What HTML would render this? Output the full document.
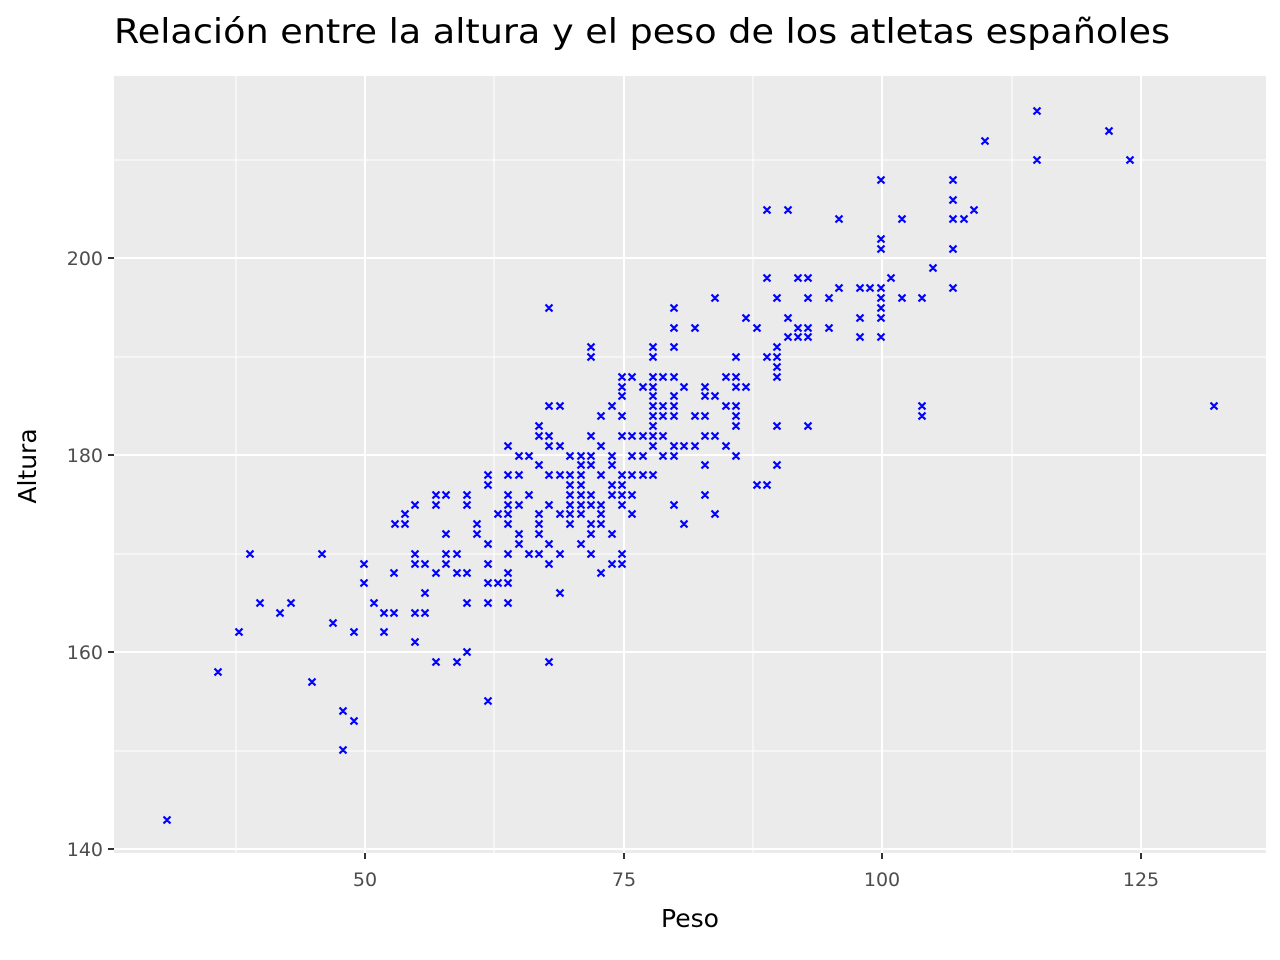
<!DOCTYPE html>
<html><head><meta charset="utf-8"><style>
html,body{margin:0;padding:0;background:#fff;}
svg{display:block;font-family:"DejaVu Sans","Liberation Sans",sans-serif;}
</style></head><body>
<svg id="s" width="1280" height="960" viewBox="0 0 1280 960">
<rect x="0" y="0" width="1280" height="960" fill="#fff"/>
<rect x="114" y="76" width="1152" height="777" fill="#ebebeb"/>
<g stroke="#fff" stroke-width="1">
<line x1="236" y1="76" x2="236" y2="853"/><line x1="494" y1="76" x2="494" y2="853"/>
<line x1="753" y1="76" x2="753" y2="853"/><line x1="1012" y1="76" x2="1012" y2="853"/>
<line x1="114" y1="160" x2="1266" y2="160"/><line x1="114" y1="357" x2="1266" y2="357"/>
<line x1="114" y1="554" x2="1266" y2="554"/><line x1="114" y1="751" x2="1266" y2="751"/>
</g>
<g stroke="#fff" stroke-width="2">
<line x1="365" y1="76" x2="365" y2="853"/><line x1="624" y1="76" x2="624" y2="853"/>
<line x1="882" y1="76" x2="882" y2="853"/><line x1="1141" y1="76" x2="1141" y2="853"/>
<line x1="114" y1="258" x2="1266" y2="258"/><line x1="114" y1="455" x2="1266" y2="455"/>
<line x1="114" y1="652" x2="1266" y2="652"/><line x1="114" y1="849" x2="1266" y2="849"/>
</g>
<g stroke="#333" stroke-width="2">
<line x1="365" y1="853" x2="365" y2="859"/><line x1="624" y1="853" x2="624" y2="859"/>
<line x1="882" y1="853" x2="882" y2="859"/><line x1="1141" y1="853" x2="1141" y2="859"/>
<line x1="108" y1="258" x2="114" y2="258"/><line x1="108" y1="455" x2="114" y2="455"/>
<line x1="108" y1="652" x2="114" y2="652"/><line x1="108" y1="849" x2="114" y2="849"/>
</g>
<g fill="#4d4d4d" font-size="19">
<text x="365" y="886" text-anchor="middle">50</text><text x="624" y="886" text-anchor="middle">75</text>
<text x="882" y="886" text-anchor="middle">100</text><text x="1141" y="886" text-anchor="middle">125</text>
<text x="103" y="265" text-anchor="end">200</text><text x="103" y="462" text-anchor="end">180</text>
<text x="103" y="659" text-anchor="end">160</text><text x="103" y="856" text-anchor="end">140</text>
</g>
<text x="690" y="927" text-anchor="middle" font-size="25" fill="#000">Peso</text>
<text transform="translate(36,466) rotate(-90)" text-anchor="middle" font-size="25" fill="#000">Altura</text>
<text x="114" y="43" font-size="34" fill="#000" textLength="1056" lengthAdjust="spacingAndGlyphs">Relación entre la altura y el peso de los atletas españoles</text>
<path id="pts" stroke="#0000ff" stroke-width="2.2" fill="none" d=""/>
</svg>
<script>
var p=[167,820,218,672,239,632,250,554,260,603,280,613,291,603,312,682,322,554,333,623,343,711,343,750,354,721,354,632,364,564,364,583,374,603,384,613,384,632,394,573,394,613,395,524,405,514,405,524,415,505,415,554,415,564,415,613,415,642,425,593,425,564,425,613,436,495,436,505,436,573,436,662,446,495,446,534,446,554,446,564,457,554,457,573,457,662,467,495,467,505,467,573,467,603,467,652,477,524,477,534,488,475,488,485,488,544,488,564,488,583,488,603,488,701,498,514,498,583,508,446,508,475,508,495,508,505,508,514,508,524,508,554,508,573,508,583,508,603,519,456,519,475,519,505,519,534,519,544,529,456,529,495,529,554,539,426,539,436,539,465,539,514,539,524,539,534,539,554,549,308,549,406,549,436,549,446,549,475,549,505,549,544,549,564,549,662,560,406,560,446,560,475,560,514,560,554,560,593,570,456,570,475,570,495,570,505,570,514,570,524,570,485,581,456,581,465,581,475,581,485,581,495,581,505,581,514,581,544,591,347,591,357,591,436,591,456,591,465,591,495,591,505,591,524,591,534,591,554,601,416,601,446,601,475,601,505,601,514,601,524,601,573,612,406,612,456,612,465,612,485,612,495,612,534,612,564,622,377,622,387,622,396,622,416,622,436,622,475,622,485,622,495,622,505,622,554,622,564,632,377,632,436,632,456,632,475,632,495,632,514,643,387,643,436,643,456,643,475,653,347,653,357,653,377,653,387,653,396,653,406,653,416,653,426,653,436,653,446,653,475,663,377,663,406,663,416,663,436,663,456,674,308,674,328,674,347,674,377,674,396,674,406,674,416,674,446,674,456,674,505,684,387,684,446,684,524,695,328,695,416,695,446,705,387,705,396,705,416,705,436,705,465,705,495,715,298,715,396,715,436,715,514,726,377,726,406,726,446,736,357,736,377,736,387,736,406,736,416,736,426,736,456,746,318,746,387,757,328,757,485,767,210,767,278,767,357,767,485,777,298,777,347,777,357,777,367,777,377,777,426,777,465,788,210,788,318,788,337,798,278,798,328,798,337,808,278,808,298,808,328,808,337,808,426,829,298,829,328,839,219,839,288,860,288,860,318,860,337,870,288,881,180,881,239,881,249,881,288,881,298,881,308,881,318,881,337,891,278,902,219,902,298,922,298,922,406,922,416,933,268,953,180,953,200,953,219,953,249,953,288,964,219,974,210,985,141,1037,111,1037,160,1109,131,1130,160,1214,406];
var d="";for(var i=0;i<p.length;i+=2){var x=p[i],y=p[i+1];d+="M"+(x-3.5)+" "+(y-3.5)+"l7 7m0 -7l-7 7";}
document.getElementById("pts").setAttribute("d",d);
</script>
</body></html>
